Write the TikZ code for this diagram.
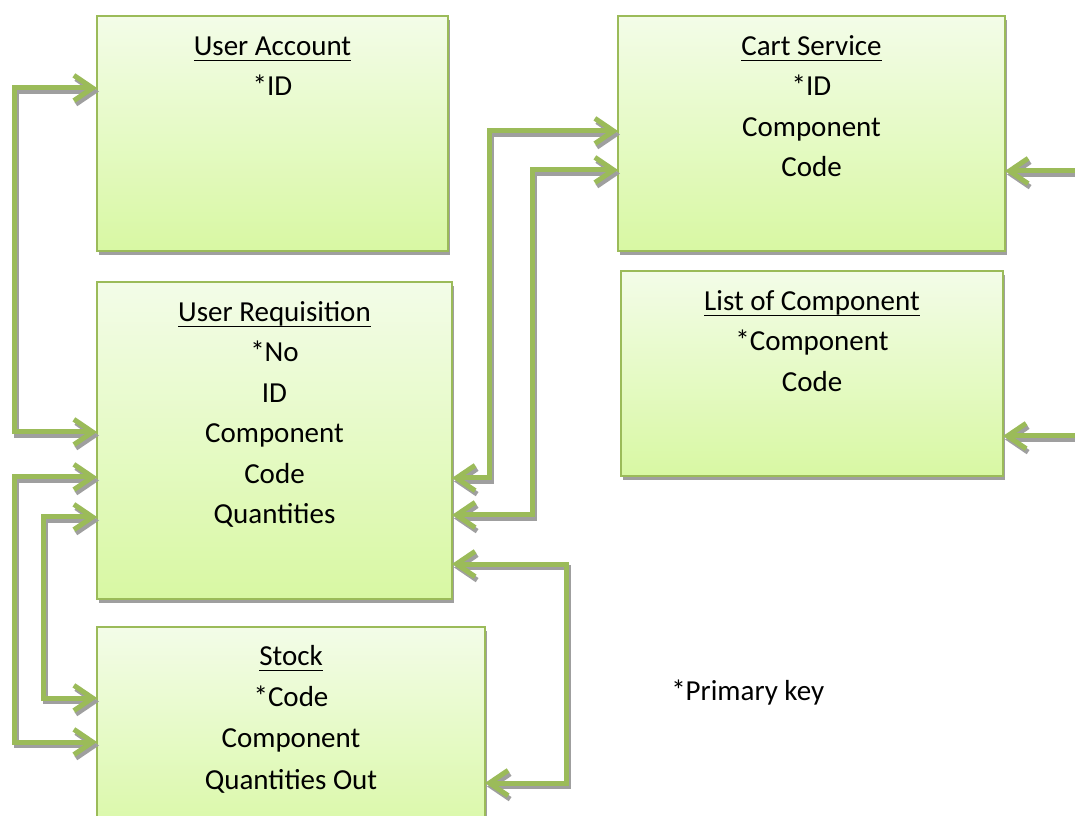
\documentclass[tikz,border=0pt]{standalone}
\usepackage{fontspec}
\setmainfont{Carlito}
\usetikzlibrary{arrows.meta,shadows,calc}

\definecolor{linkgreen}{HTML}{9BBB59}
\definecolor{boxedge}{HTML}{9BBB59}
\definecolor{boxtop}{HTML}{F3FCE8}
\definecolor{boxbottom}{HTML}{D8F8A3}
\definecolor{shadowgray}{HTML}{9F9F9F}

% underlined table title with a uniform first-line height
\newsavebox\titlebox
\newcommand\boxtitle[1]{\sbox\titlebox{#1}\rule{0pt}{16pt}\rlap{\rule[-4.4pt]{\wd\titlebox}{1.2pt}}\usebox\titlebox}

% a connector with its grey drop shadow
\newcommand\linkpath[2]{%
  \draw[#1, draw=shadowgray, transform canvas={shift={(1.5pt,-2.6pt)}}] #2;
  \draw[#1, draw=linkgreen] #2;}

\tikzset{
  tablebox/.style={draw=boxedge, line width=1.5pt, top color=boxtop, bottom color=boxbottom,
    drop shadow={shadow xshift=1.5pt, shadow yshift=-3pt, fill=shadowgray, opacity=1},
    inner sep=0pt, outer sep=0pt, anchor=north west},
  fields/.style={anchor=north, align=center, inner sep=0pt,
    font=\fontsize{21.75pt}{30.4pt}\selectfont},
  note/.style={inner sep=0pt, font=\fontsize{21.75pt}{30.4pt}\selectfont},
  duplex/.style={line width=3.75pt, {Straight Barb[length=14pt,width=19pt]}-{Straight Barb[length=14pt,width=19pt]}},
  simplex/.style={line width=3.75pt, -{Straight Barb[length=14pt,width=19pt]}},
}

\begin{document}
\begin{tikzpicture}[x={(0.75pt,0)}, y={(0,-0.75pt)}]
\useasboundingbox (0,0) rectangle (1075,816);
\clip (0,0) rectangle (1075,816);

% tables
\node[tablebox, minimum width=263.25pt, minimum height=176.25pt] (ua) at (97,16) {};
\node[tablebox, minimum width=290.25pt, minimum height=176.25pt] (cs) at (618,16) {};
\node[tablebox, minimum width=286.5pt, minimum height=153.75pt] (lc) at (621,271) {};
\node[tablebox, minimum width=266.25pt, minimum height=237.75pt] (ur) at (97,282) {};
\node[tablebox, minimum width=291pt, minimum height=165pt] (st) at (97,627) {};

% table fields
\node[fields] (uaf) at ($(ua.north)+(0,17.7)$) {\boxtitle{User Account}\\*ID};
\node[fields] (csf) at ($(cs.north)+(0,17.7)$) {\boxtitle{Cart Service}\\*ID\\Component\\Code};
\node[fields] (lcf) at ($(lc.north)+(0,17.7)$) {\boxtitle{List of Component}\\*Component\\Code};
\node[fields] (urf) at ($(ur.north)+(0,17.7)$) {\boxtitle{User Requisition}\\*No\\ID\\Component\\Code\\Quantities};
\node[fields, font=\fontsize{21.75pt}{31pt}\selectfont] (stf) at ($(st.north)+(0,16.7)$) {\boxtitle{Stock}\\*Code\\Component\\Quantities Out};

\node[note, anchor=base west] (pk) at (671,700) {*Primary key};

% connectors on the left
\linkpath{duplex}{($(ua.north west)+(0,72)$) -- ++(-83,0) |- ($(ur.north west)+(0,150)$)}
\linkpath{duplex}{($(ur.north west)+(0,195)$) -- ++(-83,0) |- ($(st.north west)+(0,115)$)}
\linkpath{duplex}{($(ur.north west)+(0,235)$) -- ++(-54,0) |- ($(st.north west)+(0,71)$)}

% connectors on the right
\linkpath{duplex}{($(ur.north east)+(0,196)$) -- ++(37,0) |- ($(cs.north west)+(0,115)$)}
\linkpath{duplex}{($(ur.north east)+(0,233)$) -- ++(80,0) |- ($(cs.north west)+(0,154)$)}
\linkpath{duplex}{($(ur.north east)+(0,282)$) -- ++(114,0) |- ($(st.north east)+(0,156)$)}

% incoming links from the page edge
\coordinate (feedcs) at (1080,171);
\coordinate (feedlc) at (1080,436);
\linkpath{simplex}{(feedcs) -- (feedcs -| cs.east)}
\linkpath{simplex}{(feedlc) -- (feedlc -| lc.east)}
\end{tikzpicture}
\end{document}
